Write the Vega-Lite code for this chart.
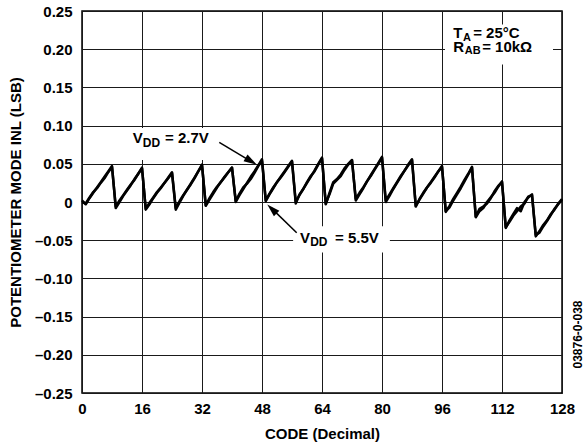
{
  "$schema": "https://vega.github.io/schema/vega-lite/v6.json",
  "width": 480,
  "height": 382,
  "autosize": {"type": "none"},
  "padding": {"left": 82, "top": 11, "right": 25, "bottom": 54},
  "background": "white",
  "config": {
    "font": "Liberation Sans",
    "view": {"stroke": "#000", "strokeWidth": 1.5},
    "axis": {
      "grid": true, "gridColor": "#1a1a1a", "gridWidth": 1, "gridOpacity": 1,
      "domain": false, "ticks": false,
      "labelFont": "Liberation Sans", "labelFontSize": 15, "labelFontWeight": "bold", "labelColor": "#000",
      "labelOverlap": false,
      "titleFont": "Liberation Sans", "titleFontSize": 15, "titleFontWeight": "bold", "titleColor": "#000"
    }
  },
  "data": {"values": [
    {"code":0,"a":0.002,"b":0.000},{"code":1,"a":-0.003,"b":-0.002},{"code":2,"a":0.005,"b":0.006},{"code":3,"a":0.012,"b":0.013},
    {"code":4,"a":0.019,"b":0.018},{"code":5,"a":0.026,"b":0.025},{"code":6,"a":0.033,"b":0.031},{"code":7,"a":0.040,"b":0.039},
    {"code":8,"a":0.047,"b":0.046},{"code":9,"a":-0.008,"b":-0.006},{"code":10,"a":0.000,"b":0.002},{"code":11,"a":0.008,"b":0.009},
    {"code":12,"a":0.015,"b":0.016},{"code":13,"a":0.022,"b":0.023},{"code":14,"a":0.030,"b":0.029},{"code":15,"a":0.037,"b":0.037},
    {"code":16,"a":0.045,"b":0.044},{"code":17,"a":-0.010,"b":-0.009},{"code":18,"a":-0.003,"b":-0.001},{"code":19,"a":0.005,"b":0.006},
    {"code":20,"a":0.012,"b":0.013},{"code":21,"a":0.018,"b":0.019},{"code":22,"a":0.025,"b":0.025},{"code":23,"a":0.031,"b":0.032},
    {"code":24,"a":0.038,"b":0.039},{"code":25,"a":-0.010,"b":-0.008},{"code":26,"a":-0.001,"b":0.001},{"code":27,"a":0.008,"b":0.009},
    {"code":28,"a":0.016,"b":0.016},{"code":29,"a":0.024,"b":0.023},{"code":30,"a":0.032,"b":0.031},{"code":31,"a":0.040,"b":0.040},
    {"code":32,"a":0.049,"b":0.048},{"code":33,"a":-0.005,"b":-0.004},{"code":34,"a":0.003,"b":0.005},{"code":35,"a":0.011,"b":0.013},
    {"code":36,"a":0.019,"b":0.020},{"code":37,"a":0.026,"b":0.026},{"code":38,"a":0.032,"b":0.033},{"code":39,"a":0.039,"b":0.039},
    {"code":40,"a":0.045,"b":0.045},{"code":41,"a":0.000,"b":0.001},{"code":42,"a":0.009,"b":0.011},{"code":43,"a":0.017,"b":0.019},
    {"code":44,"a":0.025,"b":0.024},{"code":45,"a":0.033,"b":0.030},{"code":46,"a":0.040,"b":0.038},{"code":47,"a":0.048,"b":0.047},
    {"code":48,"a":0.056,"b":0.054},{"code":49,"a":0.001,"b":0.002},{"code":50,"a":0.010,"b":0.011},{"code":51,"a":0.018,"b":0.019},
    {"code":52,"a":0.026,"b":0.026},{"code":53,"a":0.033,"b":0.032},{"code":54,"a":0.040,"b":0.039},{"code":55,"a":0.047,"b":0.046},
    {"code":56,"a":0.054,"b":0.053},{"code":57,"a":0.000,"b":-0.002},{"code":58,"a":0.009,"b":0.010},{"code":59,"a":0.017,"b":0.017},
    {"code":60,"a":0.025,"b":0.026},{"code":61,"a":0.033,"b":0.034},{"code":62,"a":0.041,"b":0.040},{"code":63,"a":0.050,"b":0.049},
    {"code":64,"a":0.058,"b":0.057},{"code":65,"a":-0.003,"b":-0.002},{"code":66,"a":0.012,"b":0.010},{"code":67,"a":0.026,"b":0.024},
    {"code":68,"a":0.030,"b":0.029},{"code":69,"a":0.036,"b":0.034},{"code":70,"a":0.044,"b":0.042},{"code":71,"a":0.050,"b":0.049},
    {"code":72,"a":0.055,"b":0.054},{"code":73,"a":0.002,"b":0.004},{"code":74,"a":0.010,"b":0.012},{"code":75,"a":0.018,"b":0.019},
    {"code":76,"a":0.027,"b":0.027},{"code":77,"a":0.035,"b":0.034},{"code":78,"a":0.043,"b":0.042},{"code":79,"a":0.051,"b":0.050},
    {"code":80,"a":0.059,"b":0.058},{"code":81,"a":0.002,"b":0.000},{"code":82,"a":0.010,"b":0.008},{"code":83,"a":0.018,"b":0.017},
    {"code":84,"a":0.026,"b":0.025},{"code":85,"a":0.034,"b":0.033},{"code":86,"a":0.041,"b":0.041},{"code":87,"a":0.049,"b":0.048},
    {"code":88,"a":0.056,"b":0.055},{"code":89,"a":-0.005,"b":-0.006},{"code":90,"a":0.003,"b":0.004},{"code":91,"a":0.011,"b":0.012},
    {"code":92,"a":0.019,"b":0.019},{"code":93,"a":0.026,"b":0.025},{"code":94,"a":0.033,"b":0.032},{"code":95,"a":0.040,"b":0.040},
    {"code":96,"a":0.047,"b":0.046},{"code":97,"a":-0.013,"b":-0.012},{"code":98,"a":-0.005,"b":-0.007},{"code":99,"a":0.004,"b":0.002},
    {"code":100,"a":0.012,"b":0.010},{"code":101,"a":0.020,"b":0.018},{"code":102,"a":0.029,"b":0.027},{"code":103,"a":0.037,"b":0.036},
    {"code":104,"a":0.046,"b":0.045},{"code":105,"a":-0.020,"b":-0.019},{"code":106,"a":-0.012,"b":-0.009},{"code":107,"a":-0.008,"b":-0.006},
    {"code":108,"a":0.000,"b":-0.002},{"code":109,"a":0.006,"b":0.005},{"code":110,"a":0.012,"b":0.014},{"code":111,"a":0.020,"b":0.021},
    {"code":112,"a":0.027,"b":0.026},{"code":113,"a":-0.034,"b":-0.033},{"code":114,"a":-0.024,"b":-0.026},{"code":115,"a":-0.016,"b":-0.018},
    {"code":116,"a":-0.008,"b":-0.012},{"code":117,"a":-0.012,"b":-0.006},{"code":118,"a":0.000,"b":-0.002},{"code":119,"a":0.006,"b":0.007},
    {"code":120,"a":0.010,"b":0.009},{"code":121,"a":-0.045,"b":-0.043},{"code":122,"a":-0.038,"b":-0.040},{"code":123,"a":-0.030,"b":-0.032},
    {"code":124,"a":-0.024,"b":-0.025},{"code":125,"a":-0.016,"b":-0.017},{"code":126,"a":-0.010,"b":-0.009},{"code":127,"a":-0.002,"b":-0.003},
    {"code":128,"a":0.004,"b":0.003}
  ]},
  "layer": [
    {
      "transform": [{"fold": ["a", "b"], "as": ["series", "inl"]}],
      "mark": {"type": "line", "color": "#000", "strokeWidth": 2.5, "strokeJoin": "round"},
      "encoding": {
        "x": {"field": "code", "type": "quantitative",
              "scale": {"domain": [0, 128], "nice": false, "zero": false},
              "axis": {"values": [0, 16, 32, 48, 64, 80, 96, 112, 128], "tickCount": 20, "title": "CODE (Decimal)",
                       "labelPadding": 8, "labelFlush": false,
                       "titleX": 240, "titleY": 40, "titleBaseline": "middle", "titleAlign": "center"}},
        "y": {"field": "inl", "type": "quantitative",
              "scale": {"domain": [-0.25, 0.25], "nice": false, "zero": false},
              "axis": {"values": [-0.25, -0.2, -0.15, -0.1, -0.05, 0, 0.05, 0.1, 0.15, 0.2, 0.25], "tickCount": 20,
                       "labelExpr": "abs(datum.value) < 1e-9 ? '0' : (datum.value < 0 ? '–' + format(-datum.value, '.2f') : format(datum.value, '.2f'))",
                       "labelPadding": 10, "title": "POTENTIOMETER MODE INL (LSB)",
                       "titleX": -67, "titleY": 191, "titleAngle": -90, "titleAlign": "center", "titleBaseline": "middle"}},
        "detail": {"field": "series"}
      }
    },
    {"data": {"values": [{}]}, "mark": {"type": "rect", "color": "white"},
     "encoding": {"x": {"datum": 96.8}, "x2": {"datum": 125.6}, "y": {"datum": 0.2323}, "y2": {"datum": 0.18}}},
    {"data": {"values": [{}]}, "mark": {"type": "rect", "color": "white"},
     "encoding": {"x": {"datum": 11.7}, "x2": {"datum": 35.5}, "y": {"datum": 0.097}, "y2": {"datum": 0.055}}},
    {"data": {"values": [{}]}, "mark": {"type": "rect", "color": "white"},
     "encoding": {"x": {"datum": 56.3}, "x2": {"datum": 82.1}, "y": {"datum": -0.0317}, "y2": {"datum": -0.066}}},
    {"data": {"values": [{}]}, "mark": {"type": "rule", "color": "#000", "strokeWidth": 1.5},
     "encoding": {"x": {"datum": 36.6}, "y": {"datum": 0.078}, "x2": {"datum": 45.5}, "y2": {"datum": 0.052}}},
    {"data": {"values": [{}]}, "mark": {"type": "point", "shape": "M0,-1L-0.45,0.5L0.45,0.5Z", "filled": true, "color": "#000", "opacity": 1, "size": 300, "angle": 120.8},
     "encoding": {"x": {"datum": 44.6}, "y": {"datum": 0.0548}}},
    {"data": {"values": [{}]}, "mark": {"type": "rule", "color": "#000", "strokeWidth": 1.5},
     "encoding": {"x": {"datum": 57.25}, "y": {"datum": -0.0403}, "x2": {"datum": 50.5}, "y2": {"datum": -0.008}}},
    {"data": {"values": [{}]}, "mark": {"type": "point", "shape": "M0,-1L-0.45,0.5L0.45,0.5Z", "filled": true, "color": "#000", "opacity": 1, "size": 300, "angle": 314},
     "encoding": {"x": {"datum": 51.07}, "y": {"datum": -0.0111}}},
    {"data": {"values": [{}]}, "mark": {"type": "text", "text": "V", "fontSize": 15, "fontWeight": "bold", "align": "left", "baseline": "alphabetic", "color": "#000"},
     "encoding": {"x": {"datum": 13.5}, "y": {"datum": 0.0775}}},
    {"data": {"values": [{}]}, "mark": {"type": "text", "text": "DD", "fontSize": 12, "fontWeight": "bold", "align": "left", "baseline": "alphabetic", "color": "#000"},
     "encoding": {"x": {"datum": 16.2}, "y": {"datum": 0.0722}}},
    {"data": {"values": [{}]}, "mark": {"type": "text", "text": "= 2.7V", "fontSize": 15, "fontWeight": "bold", "align": "left", "baseline": "alphabetic", "color": "#000"},
     "encoding": {"x": {"datum": 22.13}, "y": {"datum": 0.0775}}},
    {"data": {"values": [{}]}, "mark": {"type": "text", "text": "V", "fontSize": 15, "fontWeight": "bold", "align": "left", "baseline": "alphabetic", "color": "#000"},
     "encoding": {"x": {"datum": 58.13}, "y": {"datum": -0.0537}}},
    {"data": {"values": [{}]}, "mark": {"type": "text", "text": "DD", "fontSize": 12, "fontWeight": "bold", "align": "left", "baseline": "alphabetic", "color": "#000"},
     "encoding": {"x": {"datum": 60.85}, "y": {"datum": -0.0582}}},
    {"data": {"values": [{}]}, "mark": {"type": "text", "text": "= 5.5V", "fontSize": 15, "fontWeight": "bold", "align": "left", "baseline": "alphabetic", "color": "#000"},
     "encoding": {"x": {"datum": 67.47}, "y": {"datum": -0.0537}}},
    {"data": {"values": [{}]}, "mark": {"type": "text", "text": "T", "fontSize": 15, "fontWeight": "bold", "align": "left", "baseline": "alphabetic", "color": "#000"},
     "encoding": {"x": {"datum": 99.0}, "y": {"datum": 0.2145}}},
    {"data": {"values": [{}]}, "mark": {"type": "text", "text": "A", "fontSize": 11, "fontWeight": "bold", "align": "left", "baseline": "alphabetic", "color": "#000"},
     "encoding": {"x": {"datum": 101.6}, "y": {"datum": 0.2101}}},
    {"data": {"values": [{}]}, "mark": {"type": "text", "text": "= 25°C", "fontSize": 15, "fontWeight": "bold", "align": "left", "baseline": "alphabetic", "color": "#000"},
     "encoding": {"x": {"datum": 104.3}, "y": {"datum": 0.2145}}},
    {"data": {"values": [{}]}, "mark": {"type": "text", "text": "R", "fontSize": 15, "fontWeight": "bold", "align": "left", "baseline": "alphabetic", "color": "#000"},
     "encoding": {"x": {"datum": 99.0}, "y": {"datum": 0.1968}}},
    {"data": {"values": [{}]}, "mark": {"type": "text", "text": "AB", "fontSize": 11, "fontWeight": "bold", "align": "left", "baseline": "alphabetic", "color": "#000"},
     "encoding": {"x": {"datum": 102.05}, "y": {"datum": 0.1934}}},
    {"data": {"values": [{}]}, "mark": {"type": "text", "text": "= 10kΩ", "fontSize": 15, "fontWeight": "bold", "align": "left", "baseline": "alphabetic", "color": "#000"},
     "encoding": {"x": {"datum": 106.7}, "y": {"datum": 0.1968}}},
    {"data": {"values": [{}]}, "mark": {"type": "text", "text": "03876-0-038", "fontSize": 12, "fontWeight": "bold", "align": "center", "baseline": "middle", "angle": 270, "color": "#000"},
     "encoding": {"x": {"datum": 132.3}, "y": {"datum": -0.1734}}}
  ]
}
